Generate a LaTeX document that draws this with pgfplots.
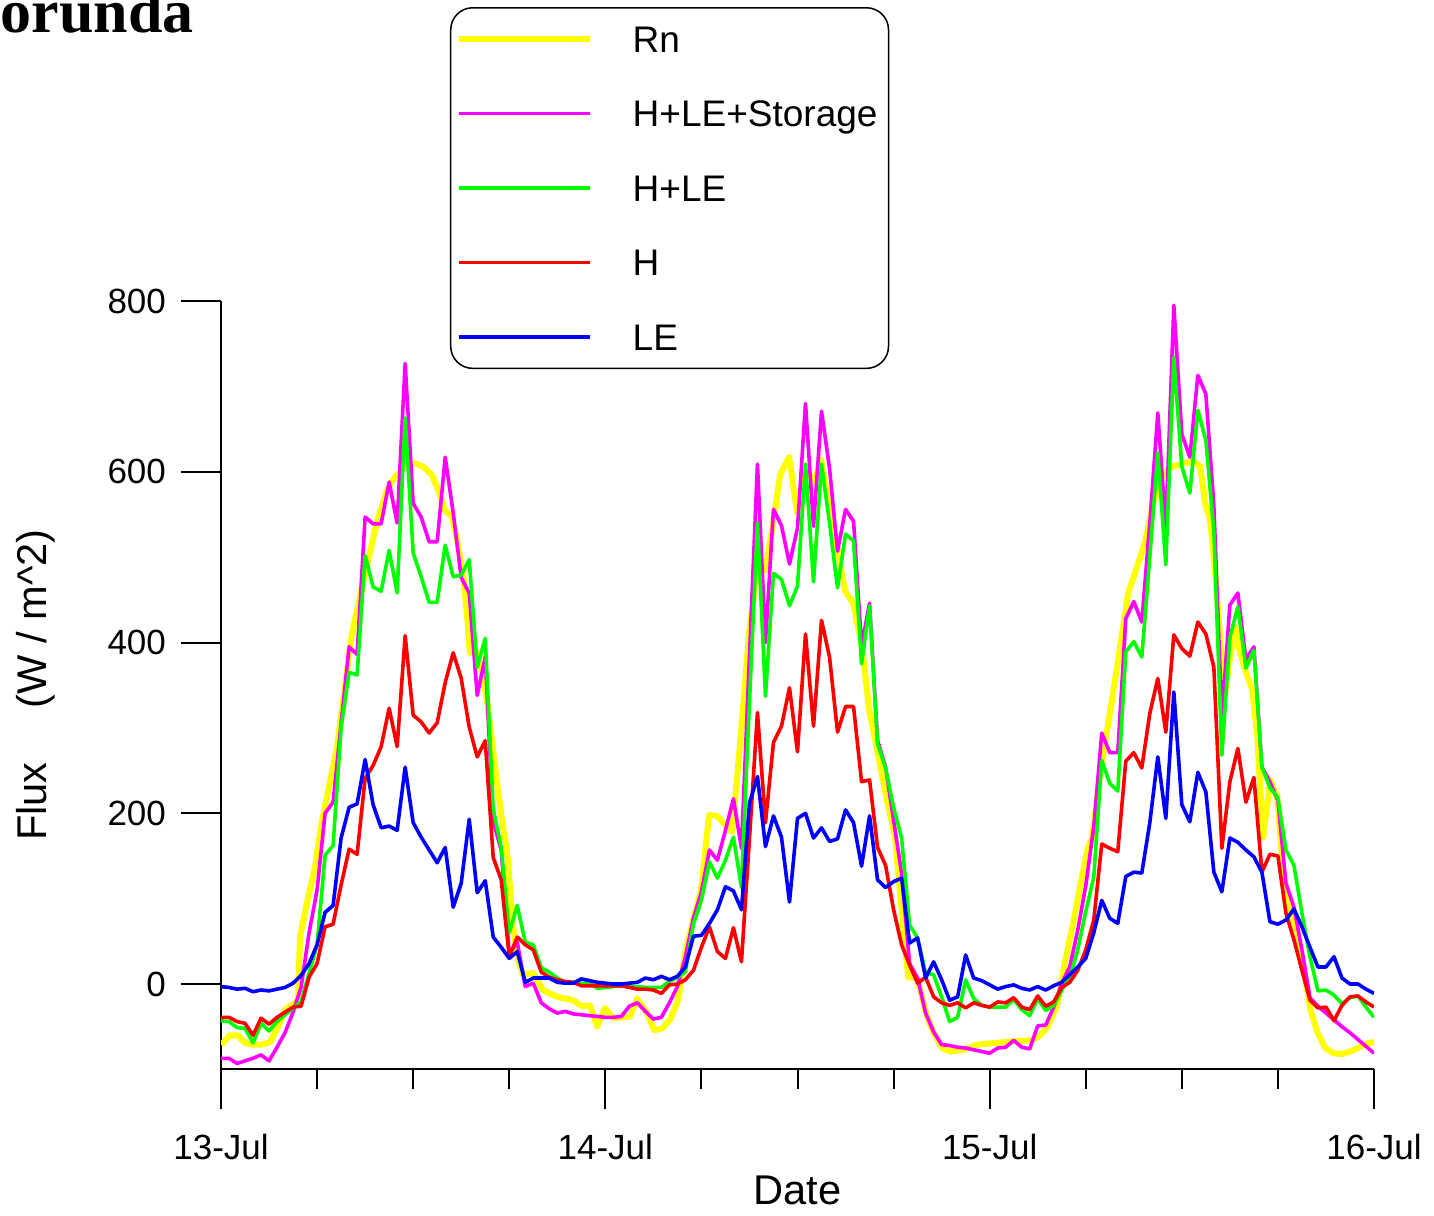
\documentclass[border=0pt]{standalone}
\usepackage{pgfplots}
\pgfplotsset{compat=1.18}
\usepackage{pgfplotstable}
\usepackage{fontspec}
\setmainfont{Liberation Sans}
\newfontfamily\titlefont{Liberation Serif}
\definecolor{cyel}{RGB}{255,255,0}
\definecolor{cmag}{RGB}{255,0,255}
\definecolor{cgrn}{RGB}{0,255,0}
\definecolor{cred}{RGB}{255,0,0}
\definecolor{cblu}{RGB}{0,0,255}

\pgfplotstableread{
t mag grn red blu
0 -87 -43 -39 -3
0.5 -87 -44 -39 -4
1 -93 -51 -44 -6
1.5 -90 -52 -46 -5
2 -87 -69 -60 -9
2.5 -83 -46 -40 -7
3 -90 -55 -47 -8
3.5 -74 -44 -39 -6
4 -57 -36 -33 -4
4.5 -33 -28 -27 1
5 -4 -21 -26 10
5.5 60 13 8 24
6 110 46 24 46
6.5 200 151 67 84
7 213 162 70 92
7.5 305 300 116 171
8 395 365 158 207
8.5 386 362 152 211
9 547 502 241 263
9.5 539 465 256 210
10 539 460 278 183
10.5 588 508 323 185
11 540 458 278 180
11.5 727 663 408 254
12 563 505 315 189
12.5 547 477 307 172
13 518 447 294 157
13.5 518 447 306 142
14 617 514 353 160
14.5 552 477 388 90
15 476 479 358 118
15.5 458 497 301 193
16 338 371 266 107
16.5 383 405 285 121
17 190 205 148 55
17.5 157 160 122 43
18 36 60 32 30
18.5 49 92 55 38
19 -3 49 46 2
19.5 1 46 40 7
20 -22 19 14 7
20.5 -29 14 8 7
21 -34 7 5 2
21.5 -32 2 3 1
22 -35 2 2 1
22.5 -36 1 -2 6
23 -37 1 -2 4
23.5 -38 -5 -2 2
24 -39 -4 -2 1
24.5 -39 -3 -2 0
25 -38 -2 -2 0
25.5 -26 -3 -4 1
26 -22 -3 -6 2
26.5 -32 -4 -6 7
27 -41 -4 -7 5
27.5 -39 -4 -11 9
28 -22 3 -1 5
28.5 -3 8 0 9
29 32 14 5 20
29.5 77 70 16 56
30 108 98 43 57
30.5 157 143 67 71
31 145 124 38 87
31.5 180 145 30 114
32 217 172 66 109
32.5 159 113 26 87
33 384 330 170 212
33.5 609 540 318 243
34 400 337 189 161
34.5 556 481 283 197
35 537 474 302 172
35.5 492 443 347 96
36 534 466 272 194
36.5 680 609 410 200
37 536 471 302 171
37.5 671 609 426 183
38 604 540 383 167
38.5 507 464 295 170
39 556 527 325 204
39.5 542 519 325 189
40 396 375 237 138
40.5 446 443 239 197
41 285 281 160 122
41.5 254 253 139 113
42 192 207 87 120
42.5 130 171 46 124
43 24 69 22 48
43.5 7 54 1 54
44 -34 13 8 7
44.5 -56 11 -15 26
45 -71 -15 -22 5
45.5 -72 -44 -25 -19
46 -74 -39 -22 -15
46.5 -75 5 -28 34
47 -77 -17 -22 7
47.5 -79 -25 -25 4
48 -81 -27 -27 -1
48.5 -75 -27 -21 -6
49 -74 -27 -22 -3
49.5 -66 -18 -16 -1
50 -74 -30 -27 -5
50.5 -76 -37 -30 -7
51 -49 -17 -14 -3
51.5 -48 -31 -26 -7
52 -27 -25 -21 -2
52.5 1 -7 -4 2
53 20 7 2 11
53.5 63 40 16 20
54 115 85 40 30
54.5 184 125 75 60
55 294 262 164 98
55.5 271 235 159 77
56 271 226 155 71
56.5 428 389 261 126
57 448 401 271 131
57.5 424 383 253 130
58 540 500 317 189
58.5 669 622 358 266
59 534 491 295 194
59.5 795 734 409 342
60 644 606 393 210
60.5 617 575 384 190
61 713 672 424 248
61.5 691 637 410 225
62 560 530 371 131
62.5 312 268 159 108
63 444 406 237 171
63.5 458 442 276 166
64 380 370 213 157
64.5 395 391 242 149
65 254 254 131 131
65.5 237 230 152 73
66 215 218 150 70
66.5 118 157 83 75
67 90 139 52 88
67.5 40 83 16 67
68 -16 32 -19 43
68.5 -26 -8 -28 20
69 -34 -7 -27 20
69.5 -42 -13 -43 32
70 -50 -23 -25 7
70.5 -57 -16 -15 0
71 -65 -14 -14 0
71.5 -73 -27 -21 -6
72 -81 -39 -27 -11
}\fluxdata

\pgfplotstableread{
t rn
0 -71
0.56 -60
1.06 -60
1.5 -69
2.0 -71
2.56 -71
3.06 -68
3.56 -50
4.0 -30
4.43 -25
4.81 -19
4.93 55
5.37 95
5.87 137
6.31 192
6.81 237
7.25 278
8.18 411
9.0 481
9.74 541
10.37 579
10.87 594
11.49 606
12.12 610
12.62 606
13.18 596
13.55 579
13.99 555
14.43 547
14.74 520
15.12 481
15.37 430
15.55 388
16.05 388
16.61 333
17.24 235
17.61 184
17.86 157
18.24 67
18.55 28
18.86 11
19.49 13
20.11 -7
20.99 -15
21.99 -19
22.55 -26
23.05 -25
23.49 -50
23.99 -28
24.48 -40
25.11 -39
25.55 -38
25.98 -17
26.61 -34
27.05 -54
27.55 -52
28.04 -42
28.54 -19
28.98 36
29.48 75
29.98 110
30.48 198
30.98 197
31.48 186
31.92 178
32.5 300
32.99 415
33.49 486
33.98 484
34.48 540
34.92 597
35.48 617
35.98 552
36.54 607
36.98 586
37.48 614
37.98 561
38.48 511
38.98 460
39.48 446
40.04 394
40.47 322
41.04 268
41.6 214
42.1 172
42.41 105
42.91 8
43.47 7
44.1 -39
44.47 -56
45.03 -75
45.53 -79
46.35 -77
47.22 -71
48.47 -69
49.47 -67
50.53 -66
51.03 -62
51.59 -51
52.22 -25
52.72 28
53.22 72
53.65 114
54.09 157
54.4 172
54.9 247
55.53 320
56.03 380
56.65 458
57.21 489
57.71 518
58.21 563
58.78 594
59.28 605
59.78 608
60.34 611
60.84 611
61.15 606
61.46 563
61.77 543
62.09 481
62.4 403
62.71 344
63.02 383
63.33 418
63.64 388
63.96 368
64.4 344
64.71 290
65.08 172
65.52 239
65.96 219
66.33 130
66.77 87
67.21 60
67.6 20
68.03 -30
68.47 -57
68.96 -75
69.46 -81
70.02 -82
70.52 -79
71.0 -75
71.5 -70
72 -68
}\rndata

\begin{document}
\begin{tikzpicture}
\begin{axis}[
  name=ax,
  scale only axis,
  width=576.5pt, height=384.2pt,
  xmin=0, xmax=72, ymin=-100, ymax=800,
  axis x line=bottom, axis y line=left,
  axis line style={line width=1pt, -},
  xtick={0,24,48,72},
  xticklabels={13-Jul,14-Jul,15-Jul,16-Jul},
  minor xtick={6,12,18,30,36,42,54,60,66},
  ytick={0,200,400,600,800},
  tick align=outside,
  major tick length=20pt, minor tick length=10pt,
  tick style={line width=1pt, black},
  ticklabel style={font=\fontsize{17.5}{17.5}\selectfont},
  xticklabel style={yshift=-9pt},
  yticklabel style={xshift=-4pt},
  /pgf/number format/assume math mode=true,
  xlabel={Date},
  ylabel={Flux\hspace{27pt}(W / m\textasciicircum 2)},
  label style={font=\fontsize{20.8}{20.8}\selectfont},
  xlabel style={at={(axis description cs:0.5,-0.157)}, anchor=center},
  ylabel style={at={(axis description cs:-0.1605,0.5)}, anchor=center},
  legend cell align=left,
  legend image code/.code={\draw[#1] (0pt,0pt) -- (65.5pt,0pt);},
  legend style={at={(axis description cs:0.1986,1.3826)}, anchor=north west,
    draw=black, line width=0.75pt, rounded corners=11pt,
    font=\fontsize{18.5}{18.5}\selectfont,
    inner xsep=2.5pt, inner ysep=9pt, column sep=20pt, row sep=23.95pt,
    nodes={inner sep=0pt, text height=13.3pt, text depth=0pt}},
  every axis plot/.append style={line join=round, sharp corners},
]
\addplot[cyel, line width=3pt] table[x=t, y=rn]{\rndata};
\addlegendentry{Rn}
\addplot[cmag, line width=1.8pt] table[x=t, y=mag]{\fluxdata};
\addlegendentry{H+LE+Storage\rule{3pt}{0pt}}
\addplot[cgrn, line width=1.8pt] table[x=t, y=grn]{\fluxdata};
\addlegendentry{H+LE}
\addplot[cred, line width=1.8pt] table[x=t, y=red]{\fluxdata};
\addlegendentry{H}
\addplot[cblu, line width=1.8pt] table[x=t, y=blu]{\fluxdata};
\addlegendentry{LE}
\end{axis}
\node[anchor=base east, inner sep=0pt, font=\titlefont\bfseries\fontsize{31}{31}\selectfont]
  at ([shift={(-13.5pt,518.2pt)}]ax.south west) {orunda};
\pgfresetboundingbox
\path[use as bounding box] ([shift={(-110.5pt,-72.8pt)}]ax.south west) rectangle ([shift={(606.5pt,534.7pt)}]ax.south west);
\end{tikzpicture}
\end{document}
